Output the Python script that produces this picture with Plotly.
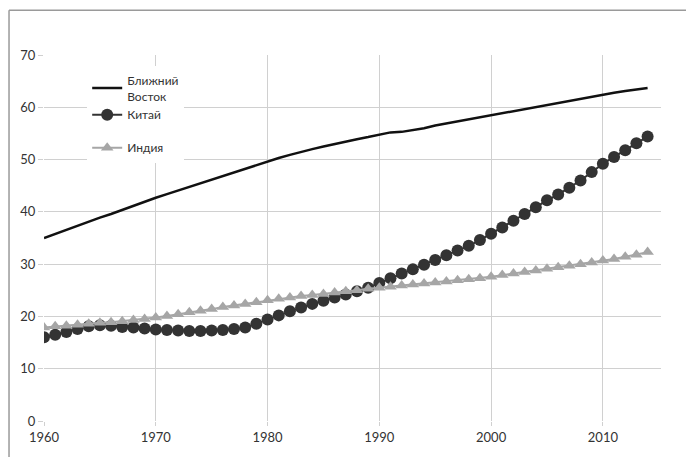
import plotly.graph_objects as go

years = list(range(1960, 2015))

middle_east = [35.0, 35.8, 36.5, 37.3, 38.1, 38.9, 39.6, 40.4, 41.2, 41.9,
               42.7, 43.4, 44.1, 44.8, 45.5, 46.2, 46.9, 47.6, 48.3, 49.0,
               49.7, 50.3, 50.9, 51.5, 52.0, 52.5, 53.0, 53.5, 53.9, 54.3,
               54.8, 55.2, 55.3, 55.6, 56.0, 56.5, 56.9, 57.3, 57.7, 58.1,
               58.5, 58.9, 59.3, 59.7, 60.1, 60.5, 60.9, 61.3, 61.7, 62.1,
               62.5, 62.8, 63.1, 63.4, 63.7]

china = [16.0, 16.5, 17.0, 17.6, 18.1, 18.3, 18.2, 18.0, 17.9, 17.7,
         17.5, 17.4, 17.3, 17.2, 17.2, 17.3, 17.4, 17.6, 17.9, 18.6,
         19.4, 20.2, 21.0, 21.7, 22.4, 23.0, 23.6, 24.2, 24.8, 25.5,
         26.4, 27.3, 28.2, 29.0, 29.9, 30.8, 31.7, 32.6, 33.5, 34.6,
         35.8, 37.0, 38.3, 39.6, 40.9, 42.2, 43.3, 44.6, 46.0, 47.6,
         49.2, 50.5, 51.8, 53.1, 54.4]

india = [17.9, 18.1, 18.2, 18.4, 18.6, 18.8, 18.9, 19.1, 19.3, 19.5,
         19.8, 20.1, 20.4, 20.8, 21.1, 21.4, 21.8, 22.1, 22.4, 22.7,
         23.1, 23.4, 23.6, 23.9, 24.1, 24.3, 24.6, 24.8, 25.0, 25.3,
         25.5, 25.7, 25.9, 26.1, 26.3, 26.5, 26.7, 26.9, 27.1, 27.3,
         27.6, 27.9, 28.2, 28.5, 28.8, 29.1, 29.4, 29.7, 30.0, 30.3,
         30.7, 31.0, 31.4, 31.8, 32.3]

font_family = "Lato, 'Open Sans', sans-serif"

fig = go.Figure()
fig.add_trace(go.Scatter(x=years, y=middle_east, mode="lines",
                         name="Ближний<br>Восток", legendgroup="a",
                         line=dict(color="#111111", width=2.5)))
fig.add_trace(go.Scatter(x=years, y=china, mode="lines+markers",
                         name="Китай", legendgroup="a",
                         line=dict(color="#333333", width=2),
                         marker=dict(symbol="circle", size=12, color="#333333")))
fig.add_trace(go.Scatter(x=years, y=india, mode="lines+markers",
                         name="Индия", legendgroup="b",
                         line=dict(color="#a6a6a6", width=2),
                         marker=dict(symbol="triangle-up", size=11, color="#a6a6a6")))

# outer frame (top and left edges visible)
fig.add_shape(type="line", xref="paper", yref="paper",
              x0=-0.0567, x1=1.2, y0=1.122, y1=1.122,
              line=dict(color="#9a9a9a", width=1.5))
fig.add_shape(type="line", xref="paper", yref="paper",
              x0=-0.0567, x1=-0.0567, y0=-0.2, y1=1.122,
              line=dict(color="#9a9a9a", width=1.5))

fig.update_layout(
    width=686, height=449,
    margin=dict(l=36, r=33, t=47, b=33),
    paper_bgcolor="white", plot_bgcolor="white",
    font=dict(family=font_family, size=13, color="#333333"),
    showlegend=True,
    legend=dict(x=0.07, y=0.97, xanchor="left", yanchor="top",
                bgcolor="white", font=dict(size=12, color="#333333"),
                tracegroupgap=14, itemwidth=30),
    xaxis=dict(range=[1960, 2015.2], tickvals=[1960, 1970, 1980, 1990, 2000, 2010],
               showgrid=True, gridcolor="#d0d0d0", gridwidth=1,
               zeroline=False, showline=False,
               ticks="outside", ticklen=4, tickcolor="#d0d0d0"),
    yaxis=dict(range=[0, 70], dtick=10,
               showgrid=True, gridcolor="#d0d0d0", gridwidth=1,
               zeroline=False, showline=False,
               ticks="outside", ticklen=5, tickcolor="#d0d0d0"),
)

fig.write_html("out.html")
